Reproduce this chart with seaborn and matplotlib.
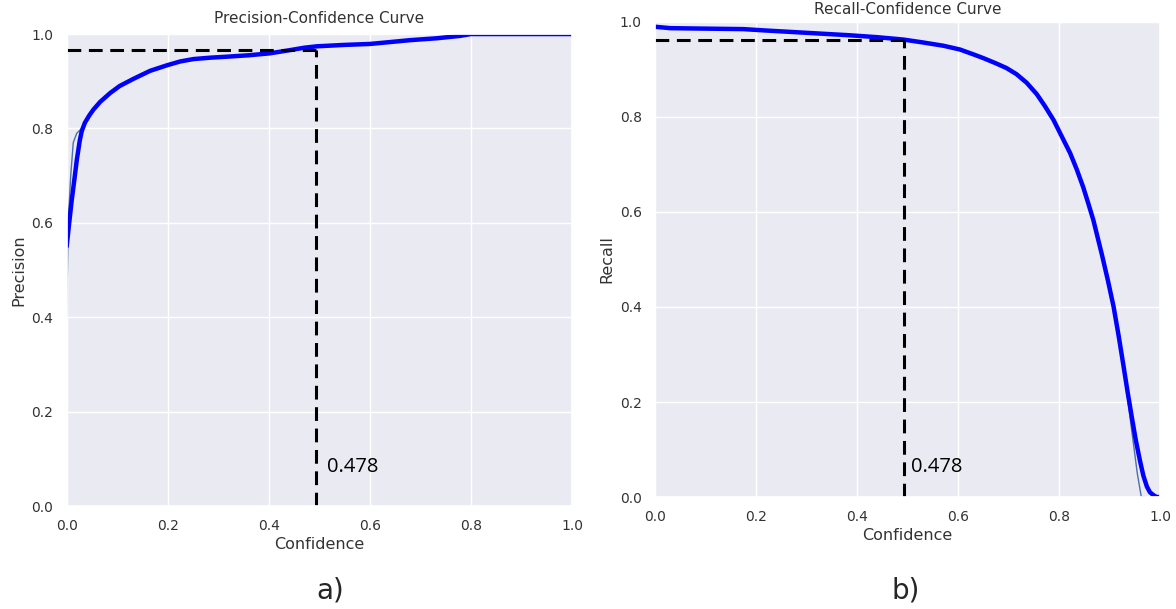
import matplotlib
matplotlib.use("Agg")
import matplotlib.pyplot as plt
import seaborn as sns
import pandas as pd

# precision-confidence
prec_conf = [0.0, 0.005, 0.01, 0.015, 0.02, 0.026, 0.03, 0.036, 0.045, 0.053, 0.066, 0.086,
             0.105, 0.132, 0.165, 0.199, 0.225, 0.251, 0.285, 0.317, 0.36, 0.401, 0.425,
             0.448, 0.47, 0.495, 0.55, 0.60, 0.64, 0.679, 0.732, 0.778, 0.80, 1.0]
prec_vals = [0.55, 0.60, 0.648, 0.69, 0.733, 0.775, 0.795, 0.812, 0.828, 0.840, 0.856, 0.875,
             0.89, 0.905, 0.922, 0.934, 0.942, 0.947, 0.950, 0.952, 0.955, 0.959, 0.963,
             0.967, 0.971, 0.974, 0.977, 0.979, 0.983, 0.987, 0.991, 0.996, 1.0, 1.0]
# thin per-class line, only where it shows next to the thick one
prec_thin_conf = [0.0, 0.003, 0.008, 0.013, 0.02, 0.03]
prec_thin_vals = [0.40, 0.60, 0.70, 0.77, 0.79, 0.80]

# recall-confidence
rec_conf = [0.0, 0.03, 0.1, 0.175, 0.22, 0.254, 0.32, 0.386, 0.44, 0.492, 0.53, 0.571, 0.604,
            0.63, 0.65, 0.675, 0.696, 0.716, 0.736, 0.756, 0.772, 0.789, 0.805, 0.822, 0.835,
            0.848, 0.858, 0.868, 0.885, 0.897, 0.908, 0.918, 0.928, 0.936, 0.944, 0.952,
            0.960, 0.967, 0.974, 0.98, 0.987, 0.993, 1.0]
rec_vals = [0.990, 0.987, 0.986, 0.985, 0.982, 0.980, 0.976, 0.972, 0.968, 0.963, 0.957, 0.950,
            0.942, 0.932, 0.924, 0.913, 0.903, 0.890, 0.872, 0.848, 0.823, 0.794, 0.760, 0.724,
            0.69, 0.652, 0.618, 0.583, 0.51, 0.455, 0.401, 0.34, 0.274, 0.22, 0.169, 0.12,
            0.078, 0.045, 0.022, 0.01, 0.004, 0.0, 0.0]
rec_thin_conf = [0.928, 0.944, 0.955, 0.963, 0.97]
rec_thin_vals = [0.274, 0.14, 0.05, 0.0, 0.0]

# threshold marks
thr_label = "0.478"
prec_thr = (0.493, 0.966)
rec_thr = (0.494, 0.962)

sns.set_theme(style="darkgrid")

fig = plt.figure(figsize=(11.76, 6.09), dpi=100)
ax1 = fig.add_axes([0.0567, 0.1691, 0.4297, 0.775])
ax2 = fig.add_axes([0.557, 0.1839, 0.4294, 0.780])

panels = [
    (ax1, prec_conf, prec_vals, prec_thin_conf, prec_thin_vals, prec_thr,
     "Precision", "Precision-Confidence Curve", (0.515, 0.083), 8),
    (ax2, rec_conf, rec_vals, rec_thin_conf, rec_thin_vals, rec_thr,
     "Recall", "Recall-Confidence Curve", (0.507, 0.063), 6),
]

for ax, cx, cy, tx, ty, thr, ylab, title, txt_pos, tpad in panels:
    df = pd.DataFrame({"Confidence": cx, ylab: cy})
    thin = pd.DataFrame({"Confidence": tx, ylab: ty})
    sns.lineplot(data=thin, x="Confidence", y=ylab, ax=ax, color="#4f6fa8", linewidth=1.0)
    sns.lineplot(data=df, x="Confidence", y=ylab, ax=ax, color="#0000ff", linewidth=3.2)

    # dashed threshold lines
    ax.plot([0, thr[0]], [thr[1], thr[1]], color="black", linewidth=2.2,
            linestyle=(0, (4.5, 2.5)))
    ax.plot([thr[0], thr[0]], [0, thr[1]], color="black", linewidth=2.2,
            linestyle=(0, (4.5, 2.5)))
    ax.text(txt_pos[0], txt_pos[1], thr_label, fontsize=14.5, family="Open Sans",
            color="black", va="center", ha="left")

    ax.set_xlim(0, 1)
    ax.set_ylim(0, 1)
    ax.set_xticks([0, 0.2, 0.4, 0.6, 0.8, 1.0])
    ax.set_yticks([0, 0.2, 0.4, 0.6, 0.8, 1.0])
    ax.tick_params(labelsize=10, labelcolor="#333333")
    ax.set_xlabel("Confidence", fontsize=11.5, labelpad=3, color="#333333")
    ax.set_ylabel(ylab, fontsize=11.5, color="#333333")
    ax.set_title(title, fontsize=11, pad=tpad, color="#333333")

fig.text(0.281, 0.031, "a)", fontsize=20, family=["Liberation Sans Narrow", "DejaVu Sans"],
         ha="center", va="center")
fig.text(0.770, 0.031, "b)", fontsize=20, family=["Liberation Sans Narrow", "DejaVu Sans"],
         ha="center", va="center")

fig.savefig("out.png", dpi=100)
